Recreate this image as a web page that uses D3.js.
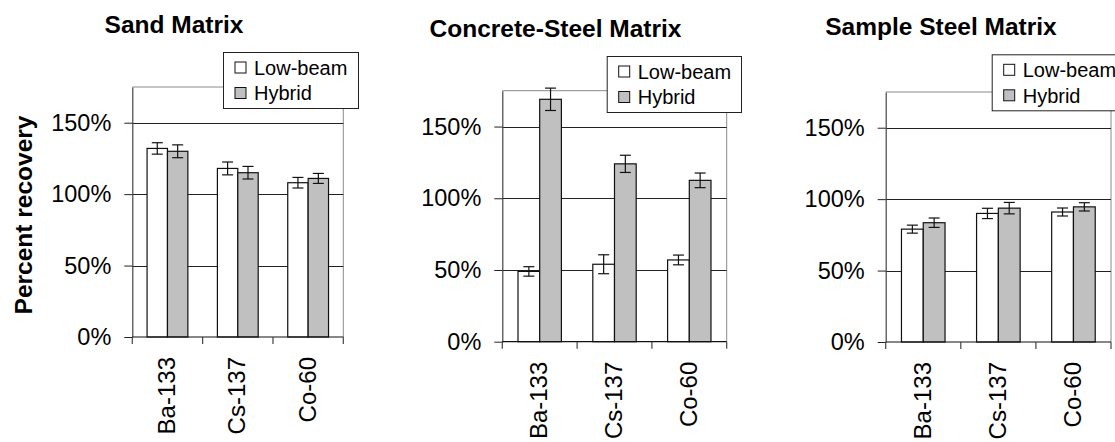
<!DOCTYPE html>
<html>
<head>
<meta charset="utf-8">
<script src="https://cdn.jsdelivr.net/npm/d3@7"></script>
<style>
  html, body { margin: 0; padding: 0; background: #fff; }
  svg { display: block; font-family: "Liberation Sans", Arial, sans-serif; }
</style>
</head>
<body>
<svg id="chart" width="1115" height="442"></svg>
<script>
// ---- Data ----
const categories = ["Ba-133", "Cs-137", "Co-60"];
const seriesNames = ["Low-beam", "Hybrid"];
const panelTitles = ["Sand Matrix", "Concrete-Steel Matrix", "Sample Steel Matrix"];
const yTickValues = [0, 50, 100, 150];
const yMax = 175;

const sandLowBeam = [132, 118, 108];
const sandLowBeamErr = [4, 4.5, 3.7];
const sandHybrid = [130, 115, 111];
const sandHybridErr = [4.5, 4.4, 3.5];

const concreteLowBeam = [49, 54, 57];
const concreteLowBeamErr = [3.3, 6.6, 3.4];
const concreteHybrid = [169, 124, 112.5];
const concreteHybridErr = [7.8, 6, 5.1];

const steelLowBeam = [79, 90, 91];
const steelLowBeamErr = [2.8, 3.6, 2.8];
const steelHybrid = [83.5, 93.7, 94.6];
const steelHybridErr = [3.3, 4, 2.9];

const panelValues = [
  [sandLowBeam, sandHybrid],
  [concreteLowBeam, concreteHybrid],
  [steelLowBeam, steelHybrid]
];
const panelErrors = [
  [sandLowBeamErr, sandHybridErr],
  [concreteLowBeamErr, concreteHybridErr],
  [steelLowBeamErr, steelHybridErr]
];

// ---- Layout ----
const layouts = [
  { left: 132.3, right: 343.3, top: 87, bottom: 337, lx: 223, ly: 52, lw: 135, lh: 56, tx: 174, ty: 33 },
  { left: 502.3, right: 726.7, top: 90.7, bottom: 341.7, lx: 606.7, ly: 56, lw: 134.3, lh: 56, tx: 555.5, ty: 36.7 },
  { left: 885.7, right: 1111, top: 92, bottom: 342, lx: 991.7, ly: 54.3, lw: 135, lh: 56, tx: 941, ty: 35 }
];
const fills = ["#ffffff", "#c0c0c0"];

const svg = d3.select("#chart");

layouts.forEach((L, pi) => {
  const g = svg.append("g");
  const x0 = d3.scaleBand().domain(categories).range([L.left, L.right]).padding(0);
  const step = x0.bandwidth();
  const x1 = d3.scaleBand().domain(seriesNames).range([step * 0.21, step * 0.79]).padding(0);
  const y = d3.scaleLinear().domain([0, yMax]).range([L.bottom, L.top]);

  // frame top/right
  g.append("path")
    .attr("d", `M${L.left},${L.top}H${L.right}V${L.bottom}`)
    .attr("fill", "none").attr("stroke", "#8a8a8a").attr("stroke-width", 1);

  // gridlines
  g.selectAll("line.grid").data(yTickValues.filter(v => v > 0)).enter().append("line")
    .attr("x1", L.left).attr("x2", L.right)
    .attr("y1", d => Math.round(y(d)) + 0.5).attr("y2", d => Math.round(y(d)) + 0.5)
    .attr("stroke", "#222").attr("stroke-width", 1);

  // bars
  const groups = g.selectAll("g.cat").data(categories).enter().append("g")
    .attr("transform", d => `translate(${x0(d)},0)`);
  seriesNames.forEach((s, si) => {
    groups.append("rect")
      .attr("x", x1(s))
      .attr("width", x1.bandwidth())
      .attr("y", (d, ci) => y(panelValues[pi][si][ci]))
      .attr("height", (d, ci) => L.bottom - y(panelValues[pi][si][ci]))
      .attr("fill", fills[si]).attr("stroke", "#111").attr("stroke-width", 1.2);
    // error bars
    groups.each(function(d, ci) {
      const v = panelValues[pi][si][ci], e = panelErrors[pi][si][ci];
      const cx = x1(s) + x1.bandwidth() / 2;
      const eg = d3.select(this).append("g").attr("stroke", "#111").attr("stroke-width", 1.2);
      eg.append("line").attr("x1", cx).attr("x2", cx).attr("y1", y(v + e)).attr("y2", y(v - e));
      eg.append("line").attr("x1", cx - 5.5).attr("x2", cx + 5.5).attr("y1", y(v + e)).attr("y2", y(v + e));
      eg.append("line").attr("x1", cx - 5.5).attr("x2", cx + 5.5).attr("y1", y(v - e)).attr("y2", y(v - e));
    });
  });

  // y axis
  const yAxis = d3.axisLeft(y).tickValues(yTickValues).tickSize(8).tickPadding(13)
    .tickFormat(d => d + "%").tickSizeOuter(0);
  const ya = g.append("g").attr("transform", `translate(${L.left},0)`).call(yAxis)
    .attr("font-size", null).attr("font-family", null);
  ya.select(".domain").attr("stroke", "#444").attr("stroke-width", 1.2);
  ya.selectAll(".tick line").attr("stroke", "#222");
  ya.selectAll(".tick text").style("font-size", "23.5px").attr("fill", "#000");

  // x axis (boundary ticks)
  const boundaries = categories.map(c => x0(c)).concat([L.right]);
  g.append("line").attr("x1", L.left).attr("x2", L.right)
    .attr("y1", L.bottom).attr("y2", L.bottom).attr("stroke", "#111").attr("stroke-width", 1.2);
  g.selectAll("line.xt").data(boundaries).enter().append("line")
    .attr("x1", d => d).attr("x2", d => d).attr("y1", L.bottom).attr("y2", L.bottom + 7)
    .attr("stroke", "#444").attr("stroke-width", 1.2);
  g.selectAll("text.xl").data(categories).enter().append("text")
    .attr("transform", d => `translate(${x0(d) + step / 2 - 1},${L.bottom + 20}) rotate(-90)`)
    .attr("text-anchor", "end").attr("dy", "0.36em")
    .style("font-size", "24px").attr("fill", "#000")
    .text(d => d);

  // title
  g.append("text").attr("x", L.tx).attr("y", L.ty).attr("text-anchor", "middle")
    .style("font-size", "24.5px").attr("font-weight", "bold")
    .text(panelTitles[pi]);

  // legend
  const lg = g.append("g");
  lg.append("rect").attr("x", L.lx + 0.5).attr("y", L.ly + 0.5).attr("width", L.lw).attr("height", L.lh)
    .attr("fill", "#fff").attr("stroke", "#222").attr("stroke-width", 1);
  seriesNames.forEach((s, si) => {
    const cy = L.ly + 15.5 + si * 25.5;
    lg.append("rect").attr("x", L.lx + 12).attr("y", cy - 5.5).attr("width", 11).attr("height", 11)
      .attr("fill", fills[si]).attr("stroke", "#111").attr("stroke-width", 1);
    lg.append("text").attr("x", L.lx + 31).attr("y", cy).attr("dy", "0.36em")
      .style("font-size", "20px").attr("fill", "#000").text(s);
  });
});

// y axis title
svg.append("text")
  .attr("transform", "translate(23,215) rotate(-90)")
  .attr("text-anchor", "middle").attr("dy", "0.36em")
  .style("font-size", "24.5px").attr("font-weight", "bold")
  .text("Percent recovery");
</script>
</body>
</html>
